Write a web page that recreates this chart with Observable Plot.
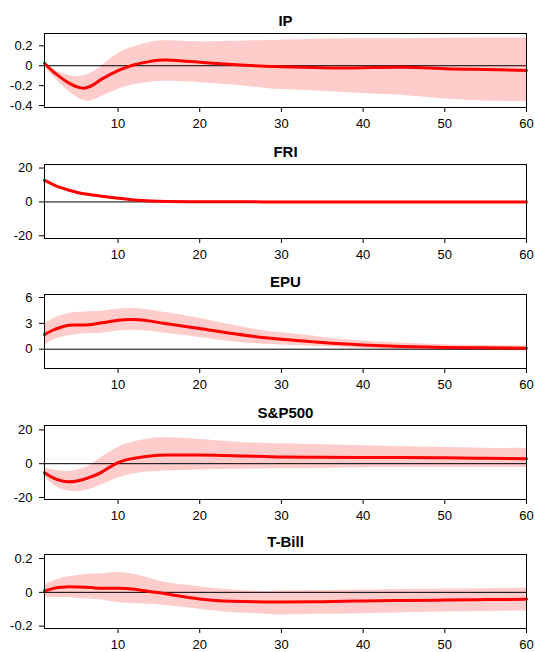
<!DOCTYPE html>
<html>
<head>
<meta charset="utf-8">
<script src="https://cdn.jsdelivr.net/npm/d3@7"></script>
<script src="https://cdn.jsdelivr.net/npm/@observablehq/plot@0.6"></script>
<style>
  html, body { margin: 0; padding: 0; background: white; }
  #chart svg { display: block; overflow: visible; }
</style>
</head>
<body>
<div id="chart"></div>
<script>
// Horizons (months)
const horizons = [1,2,3,4,5,6,7,8,10,12,14,16,20,24,28,30,35,40,45,50,55,60];
const xTicks = [10,20,30,40,50,60];

// IP
const ipMid = [0.025,-0.055,-0.12,-0.175,-0.213,-0.225,-0.19,-0.135,-0.05,0.01,0.045,0.058,0.035,0.012,-0.005,-0.01,-0.02,-0.02,-0.015,-0.03,-0.038,-0.047];
const ipLo  = [-0.012,-0.1,-0.185,-0.26,-0.32,-0.355,-0.345,-0.31,-0.24,-0.19,-0.165,-0.157,-0.17,-0.195,-0.228,-0.24,-0.257,-0.28,-0.3,-0.335,-0.355,-0.36];
const ipHi  = [0.04,-0.035,-0.07,-0.098,-0.108,-0.095,-0.06,0.0,0.12,0.19,0.235,0.25,0.24,0.245,0.252,0.256,0.265,0.27,0.272,0.275,0.278,0.28];

// FRI
const friMid = [12.7,10.4,8.4,6.9,5.6,4.7,4.0,3.4,2.2,1.1,0.5,0.25,0.1,0.05,0.02,0,0,0,0,0,0,0];
const friLo  = [11.9,9.7,7.8,6.3,5.1,4.2,3.5,2.9,1.8,0.7,0.15,-0.1,-0.2,-0.25,-0.25,-0.25,-0.2,-0.2,-0.2,-0.2,-0.2,-0.2];
const friHi  = [13.5,11.1,9.0,7.5,6.1,5.2,4.5,3.9,2.6,1.5,0.85,0.6,0.4,0.35,0.3,0.25,0.2,0.2,0.2,0.2,0.2,0.2];

// EPU
const epuMid = [1.7,2.2,2.55,2.78,2.82,2.8,2.9,3.06,3.37,3.45,3.26,2.95,2.4,1.82,1.33,1.16,0.78,0.5,0.31,0.2,0.16,0.12];
const epuLo  = [0.47,1.0,1.35,1.55,1.72,1.8,1.82,1.85,2.1,2.2,2.07,1.82,1.36,0.87,0.56,0.5,0.3,0.09,-0.05,-0.12,-0.17,-0.19];
const epuHi  = [2.98,3.5,3.9,4.15,4.28,4.33,4.38,4.42,4.65,4.72,4.53,4.22,3.57,2.8,2.1,1.9,1.4,0.95,0.7,0.52,0.44,0.39];

// S&P500
const spMid = [-5.3,-8.2,-10.0,-10.7,-10.2,-9.0,-7.2,-5.0,0.6,3.2,4.5,5.1,5.1,4.7,4.3,3.9,3.8,3.7,3.6,3.5,3.2,2.9];
const spLo  = [-7.6,-12.2,-15,-16.2,-16.5,-15.8,-14.5,-12.5,-8.5,-5.9,-4.8,-4.3,-3.7,-3.3,-3.1,-3.0,-2.8,-2.4,-2.3,-2.2,-2.2,-2.2];
const spHi  = [-2.7,-3.6,-4.4,-4.7,-3.8,-2.2,0.2,3.8,9.6,13.0,14.8,15.3,14.3,12.9,12.0,11.8,11.2,10.6,10.0,9.6,9.2,9.0];

// T-Bill
const tbMid = [0.008,0.022,0.03,0.033,0.032,0.03,0.027,0.024,0.024,0.018,0.004,-0.01,-0.039,-0.053,-0.057,-0.057,-0.055,-0.051,-0.048,-0.046,-0.043,-0.041];
const tbLo  = [-0.026,-0.03,-0.031,-0.032,-0.036,-0.04,-0.042,-0.045,-0.06,-0.067,-0.071,-0.08,-0.1,-0.12,-0.13,-0.134,-0.13,-0.126,-0.121,-0.117,-0.113,-0.11];
const tbHi  = [0.043,0.066,0.082,0.092,0.1,0.106,0.108,0.11,0.118,0.106,0.082,0.057,0.033,0.014,0.005,0.008,0.011,0.014,0.017,0.02,0.022,0.024];

const panels = [
  {title: "IP",     mid: ipMid,  lo: ipLo,  hi: ipHi,  domain: [-0.42, 0.324], ticks: [0.2, 0, -0.2, -0.4], mt: 33},
  {title: "FRI",    mid: friMid, lo: friLo, hi: friHi, domain: [-21.6, 22.1],  ticks: [20, 0, -20],        mt: 34},
  {title: "EPU",    mid: epuMid, lo: epuLo, hi: epuHi, domain: [-2.24, 6.35],  ticks: [6, 3, 0],           mt: 34},
  {title: "S&P500", mid: spMid,  lo: spLo,  hi: spHi,  domain: [-21.2, 22.6],  ticks: [20, 0, -20],        mt: 35},
  {title: "T-Bill", mid: tbMid,  lo: tbLo,  hi: tbHi,  domain: [-0.214, 0.224], ticks: [0.2, 0, -0.2],     mt: 34}
];

const H = 130, innerH = 74;
const container = document.getElementById("chart");

for (const p of panels) {
  const data = horizons.map((h, i) => ({h, mid: p.mid[i], lo: p.lo[i], hi: p.hi[i]}));
  const chart = Plot.plot({
    width: 535,
    height: H,
    marginLeft: 44,
    marginRight: 9,
    marginTop: p.mt,
    marginBottom: H - p.mt - innerH,
    style: {fontFamily: "'Liberation Sans', Arial, Helvetica, sans-serif", fontSize: "13px", color: "black", background: "transparent", overflow: "visible"},
    x: {domain: [1, 60]},
    y: {domain: p.domain},
    marks: [
      Plot.areaY(data, {x: "h", y1: "lo", y2: "hi", fill: "#FFCCCC", curve: "natural"}),
      Plot.ruleY([0], {stroke: "black", strokeWidth: 1}),
      Plot.line(data, {x: "h", y: "mid", stroke: "#FF0000", strokeWidth: 3, curve: "natural"}),
      Plot.frame({stroke: "black"}),
      Plot.axisX(xTicks, {tickSize: 5, tickPadding: 6, fontSize: 13, tickFormat: d => String(d), label: null}),
      Plot.axisY(p.ticks, {tickSize: 5, tickPadding: 7, fontSize: 13, tickFormat: d => String(d), label: null}),
      Plot.text([p.title], {frameAnchor: "top", dy: -8, lineAnchor: "bottom", fontWeight: "bold", fontSize: 15})
    ]
  });
  container.appendChild(chart);
}
</script>
</body>
</html>
